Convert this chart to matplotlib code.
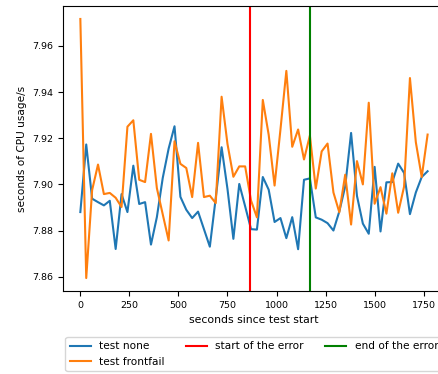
import numpy as np
import matplotlib
matplotlib.use("Agg")
import matplotlib.pyplot as plt

# --- Samples (one every 30 s) ---
step = 30
cpu_none = [
    7.8880, 7.9173, 7.8938, 7.8923, 7.8909, 7.8929, 7.8720, 7.8958, 7.8880, 7.9081,
    7.8915, 7.8923, 7.8739, 7.8858, 7.9028, 7.9155, 7.9252, 7.8946, 7.8890, 7.8854,
    7.8882, 7.8806, 7.8730, 7.8940, 7.9161, 7.8980, 7.8764, 7.9002, 7.8905, 7.8806,
    7.8804, 7.9032, 7.8977, 7.8837, 7.8854, 7.8767, 7.8858, 7.8719, 7.9020, 7.9026,
    7.8857, 7.8847, 7.8832, 7.8800, 7.8883, 7.8991, 7.9223, 7.8950, 7.8830, 7.8786,
    7.9076, 7.8796, 7.9009, 7.9010, 7.9090, 7.9050, 7.8871, 7.8965, 7.9032, 7.9057,
]
cpu_frontfail = [
    7.9717, 7.8594, 7.8975, 7.9086, 7.8958, 7.8963, 7.8942, 7.8902, 7.9250, 7.9278,
    7.9020, 7.9010, 7.9219, 7.8984, 7.8870, 7.8757, 7.9187, 7.9089, 7.9071, 7.8945,
    7.9180, 7.8945, 7.8951, 7.8919, 7.9380, 7.9175, 7.9033, 7.9078, 7.9078, 7.8930,
    7.8857, 7.9366, 7.9215, 7.8995, 7.9238, 7.9492, 7.9163, 7.9238, 7.9108, 7.9212,
    7.8982, 7.9143, 7.9177, 7.8965, 7.8879, 7.9042, 7.8826, 7.9101, 7.9000, 7.9354,
    7.8916, 7.8988, 7.8873, 7.9048, 7.8877, 7.8990, 7.9461, 7.9183, 7.9032, 7.9216,
]
t = np.arange(len(cpu_none)) * step

error_start = 867
error_end = 1170

fig = plt.figure(figsize=(4.38, 3.74), dpi=100)
ax = fig.add_axes([0.1438, 0.2219, 0.8721, 0.7620])

ax.plot(t, cpu_none, label="test none")
ax.plot(t, cpu_frontfail, label="test frontfail")
ax.axvline(error_start, color="red", label="start of the error")
ax.axvline(error_end, color="green", label="end of the error")

ax.tick_params(labelsize=6.8)
ax.set_xlabel("seconds since test start", fontsize=7.8)
ax.set_ylabel("seconds of CPU usage/s", fontsize=7.6)
ax.legend(loc="upper center", bbox_to_anchor=(0.5, -0.143), ncol=3, fontsize=7.6)

fig.savefig("out.png", dpi=100)
